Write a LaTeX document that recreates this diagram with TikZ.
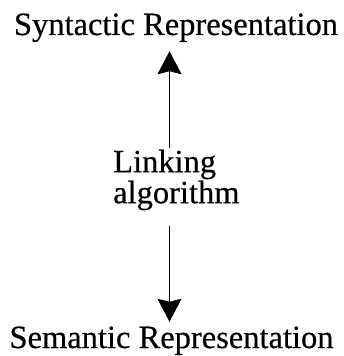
\documentclass[tikz,border=0pt]{standalone}
\usepackage{fontspec}
\setmainfont{Liberation Serif}
\newfontfamily\repfont{Liberation Serif}[FakeBold=0.5]
\usepackage{tikz}
\usetikzlibrary{arrows.meta,positioning,calc}
\tikzset{
    rep/.style={inner sep=0pt, font=\repfont\fontsize{32.5}{31}\selectfont},
    linkbox/.style={inner sep=0pt, align=left, font=\repfont\fontsize{32.5}{31}\selectfont},
    linkarr/.style={-{Stealth[length=23pt,width=24pt,inset=3pt]}, line width=1.8pt},
}
\begin{document}
\begin{tikzpicture}[x=1pt,y=1pt]
\useasboundingbox (0,0) rectangle (343,356);
\node[rep, anchor=base] (syn) at (176,321) {Syntactic Representation};
\node[rep, anchor=base] (sem) at (171.5,8) {Semantic Representation};
\node[linkbox, anchor=north west] (link) at (113,206.5) {Linking\\algorithm};
\coordinate (axis) at (169.5,178);

\draw[linkarr, shorten <=1.5pt, shorten >=9pt] (link.north -| axis) -- (syn.south -| axis);
\draw[linkarr, shorten <=16pt, shorten >=4.5pt] (link.south -| axis) -- (sem.north -| axis);
\end{tikzpicture}
\end{document}
